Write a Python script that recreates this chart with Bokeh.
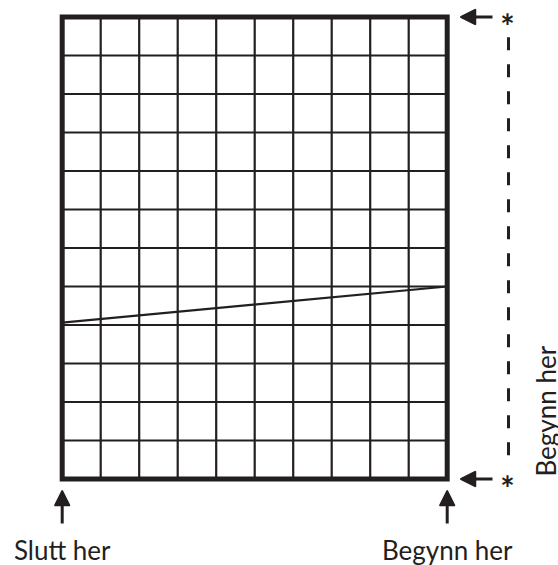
import math
from bokeh.plotting import figure
from bokeh.models import Range1d, Arrow, NormalHead
from bokeh.core.properties import value
from bokeh.embed import file_html
from bokeh.resources import INLINE

# ---- data ----
n_cols = 10
n_rows = 12
line_x = [0, 10]
line_y = [4.06, 5.0]
bottom_labels = ["Slutt her", "Begynn her"]
bottom_label_x = [0, 10]
side_label = ["Begynn her"]
side_marker_rows = [12, 0]
side_marker_text = ["*", "*"]

# ---- layout helpers (pixel scale: one grid cell = 38.5 px) ----
CELL = 38.5
W, H = 558, 565
left_px, top_px = 61.7, 16.5
x0 = -left_px / CELL
x1 = x0 + W / CELL
y1 = n_rows + top_px / CELL
y0 = y1 - H / CELL
PX = 1.0 / CELL
INK = "#231f20"
FONT = "Lato"

p = figure(width=W, height=H, x_range=Range1d(x0, x1), y_range=Range1d(y0, y1),
           output_backend="svg", toolbar_location=None, min_border=0)
p.axis.visible = False
p.grid.visible = False
p.outline_line_color = None
p.background_fill_color = "white"
p.border_fill_color = "white"

# inner grid lines
vx = list(range(1, n_cols))
p.segment(x0=vx, y0=[0] * len(vx), x1=vx, y1=[n_rows] * len(vx), line_color=INK, line_width=2.2)
hy = list(range(1, n_rows))
p.segment(x0=[0] * len(hy), y0=hy, x1=[n_cols] * len(hy), y1=hy, line_color=INK, line_width=2.2)

# outer border
p.quad(left=[0], right=[n_cols], bottom=[0], top=[n_rows], fill_color=None,
       line_color=INK, line_width=5, line_join="miter")

# the sloped line
p.line(line_x, line_y, line_color=INK, line_width=2.2)

def head():
    return NormalHead(size=15, fill_color=INK, line_color=INK, line_width=1.5)

# bottom arrows (pointing up)
for bx in bottom_label_x:
    p.add_layout(Arrow(end=head(), x_start=bx, y_start=-44.5 * PX, x_end=bx, y_end=-11.5 * PX,
                       line_color=INK, line_width=3))

# bottom labels
p.text(x=bottom_label_x, y=[-70.5 * PX] * 2, text=bottom_labels, text_align="center",
       text_baseline="alphabetic", text_font=value(FONT), text_font_size="26px",
       text_color=INK)

# right side arrows (pointing left)
for ry in side_marker_rows:
    p.add_layout(Arrow(end=head(), x_start=n_cols + 45.3 * PX, y_start=ry,
                       x_end=n_cols + 13.3 * PX, y_end=ry, line_color=INK, line_width=3))

# asterisks
ax = n_cols + 60.3 * PX
p.text(x=[ax] * 2, y=side_marker_rows, text=side_marker_text, text_align="center",
       text_baseline="middle", y_offset=8, text_font=value(FONT), text_font_size="34px",
       text_font_style="bold", text_color=INK)

# dashed line between the asterisks
p.line([ax + 1 * PX, ax + 1 * PX], [n_rows - 20.2 * PX, 16.5 * PX], line_color=INK,
       line_width=3, line_dash="13 14")

# rotated side label
p.text(x=[n_cols + 98.5 * PX], y=[2.5 * PX], text=side_label, angle=math.pi / 2,
       text_align="left", text_baseline="alphabetic", text_font=value(FONT),
       text_font_size="26px", text_color=INK)

open("out.html", "w").write(file_html(p, INLINE))
